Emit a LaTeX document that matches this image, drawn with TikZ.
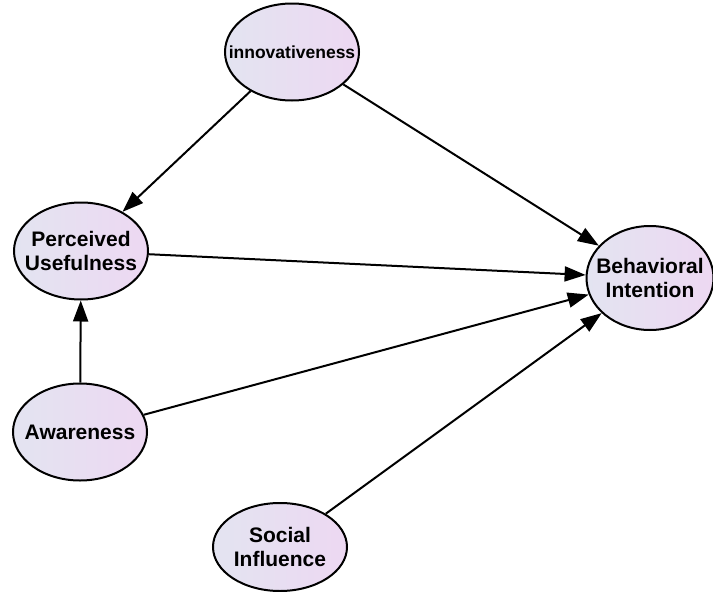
\documentclass[tikz,border=0pt]{standalone}
\usepackage{fontspec}
\setmainfont{Liberation Sans}
\usetikzlibrary{shapes.geometric,arrows.meta}
\definecolor{lblue}{HTML}{E3E4F1}
\definecolor{lpink}{HTML}{EDD8F2}
\begin{document}
\begin{tikzpicture}[x=1pt,y=-1pt,line width=2pt,
 construct/.style={ellipse,draw,left color=lblue,right color=lpink,minimum width=134pt,minimum height=97pt,
  inner xsep=-18pt,inner ysep=0pt,align=center,font=\fontsize{21}{24}\selectfont\bfseries},
 link/.style={-{Triangle[length=21pt,width=15pt]}}]
\useasboundingbox (0,0) rectangle (713,592);
\node[construct,font=\fontsize{17.5}{21}\selectfont\bfseries] (inn) at (292,52) {innovativeness};
\node[construct] (pu) at (81,251) {Perceived\\Usefulness};
\node[construct] (aw) at (80,432) {Awareness};
\node[construct,minimum height=88pt] (si) at (280,547) {Social\\Influence};
\node[construct,minimum width=127pt,minimum height=104pt] (bi) at (650,278) {Behavioral\\Intention};
% paths
\draw[link] (inn) -- (pu);
\draw[link] (inn) -- (bi);
\draw[link] (pu) -- (bi);
\draw[link] (aw) -- (pu);
\draw[link] (aw) -- (bi);
\draw[link] (si) -- (bi);
\end{tikzpicture}
\end{document}
